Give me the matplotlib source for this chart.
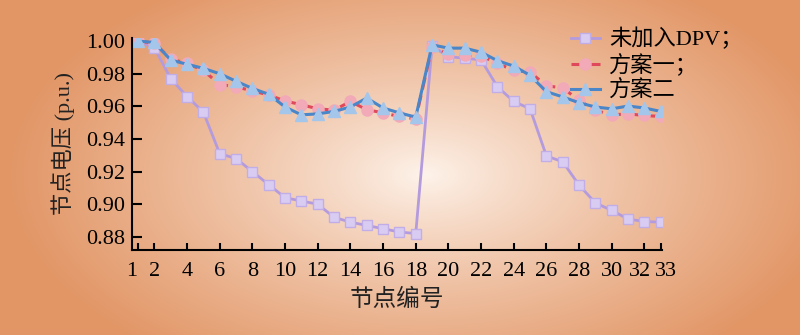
import numpy as np
import matplotlib
matplotlib.use('Agg')
import matplotlib.pyplot as plt
import matplotlib.transforms as mtransforms

plt.rcParams['font.family'] = ['Liberation Serif', 'Noto Sans CJK SC']

nodes = list(range(1, 34))
xtick_pos = [1, 2, 4, 6, 8, 10, 12, 14, 16, 18, 20, 22, 24, 26, 28, 30, 32, 33]

# 未加入DPV
no_dpv = [1.000, 0.996, 0.977, 0.966, 0.9565, 0.931, 0.928, 0.920, 0.912, 0.904,
          0.902, 0.900, 0.892, 0.889, 0.887, 0.885, 0.883, 0.882, 0.997, 0.9905,
          0.9895, 0.9885, 0.972, 0.963, 0.9585, 0.9296, 0.926, 0.9117, 0.9008, 0.8962,
          0.8909, 0.8894, 0.889]
# 方案一
plan1 = [1.000, 0.9988, 0.989, 0.9864, 0.982, 0.9734, 0.972, 0.9695, 0.967, 0.9633,
         0.961, 0.9585, 0.9577, 0.963, 0.958, 0.956, 0.9538, 0.9523, 0.9967, 0.992,
         0.9915, 0.991, 0.9864, 0.982, 0.981, 0.9726, 0.9713, 0.9637, 0.9575, 0.9548,
         0.9554, 0.9544, 0.9538]
# 方案二
plan2 = [1.000, 0.9992, 0.9884, 0.9858, 0.9833, 0.980, 0.9754, 0.971, 0.9674, 0.9596,
         0.9548, 0.9554, 0.9569, 0.9596, 0.9651, 0.959, 0.956, 0.9534, 0.9977, 0.9957,
         0.9957, 0.9932, 0.988, 0.9847, 0.979, 0.969, 0.9658, 0.9622, 0.9596, 0.9585,
         0.9602, 0.959, 0.9569]

fig = plt.figure(figsize=(8, 3.35), dpi=100)

# background radial gradient
bg = fig.add_axes([0, 0, 1, 1], zorder=-10)
gx, gy = np.meshgrid(np.linspace(0, 800, 400), np.linspace(0, 335, 170))
r = np.sqrt(((gx - 425) / 420) ** 2 + ((gy - 175) / 230) ** 2)
t = np.clip(r, 0, 1) ** 0.85
c0 = np.array([254, 244, 236]) / 255
c1 = np.array([226, 150, 102]) / 255
img = c0[None, None, :] * (1 - t[..., None]) + c1[None, None, :] * t[..., None]
bg.imshow(img, aspect='auto', extent=[0, 1, 0, 1], origin='upper')
bg.axis('off')

ax = fig.add_axes([0.165, 0.254, 0.663, 0.633])
ax.patch.set_alpha(0)

ax.plot(nodes, no_dpv, '-', color='#B49BDD', lw=2, marker='s', ms=7,
        mfc='#D9CCF2', mec='#C2AEE6', mew=1, label='未加入DPV；')
ax.plot(nodes, plan1, '--', color='#E0495C', lw=2.2, marker='o', ms=8,
        mfc='#F2A9B8', mec='#F2A9B8', dashes=(4, 2), label='方案一；')
ax.plot(nodes, plan2, '-', color='#4A86C8', lw=2.2, marker='^', ms=9,
        mfc='#A4C6EA', mec='#A4C6EA', label='方案二')

ax.set_xlim(0.63, 33.1)
ax.set_ylim(0.872, 1.002)
ax.set_xticks(xtick_pos)
ax.set_xticklabels([str(v) for v in xtick_pos])
ax.set_yticks([0.88, 0.90, 0.92, 0.94, 0.96, 0.98, 1.00])
ax.set_yticklabels(['0.88', '0.90', '0.92', '0.94', '0.96', '0.98', '1.00'])
ax.tick_params(axis='both', direction='in', labelsize=16, colors='black', width=1.5)
ax.tick_params(axis='y', length=7, pad=5)
ax.tick_params(axis='x', length=5, pad=9)
for s in ['top', 'right']:
    ax.spines[s].set_visible(False)
for s in ['left', 'bottom']:
    ax.spines[s].set_linewidth(1.5)

# nudge the crowded end labels like the original
shifts = {0: -6, 16: -4, 17: 5}
for i, lab in enumerate(ax.get_xticklabels()):
    if i in shifts:
        lab.set_transform(lab.get_transform() +
                          mtransforms.ScaledTranslation(shifts[i] / 100, 0, fig.dpi_scale_trans))

ax.set_xlabel('节点编号', fontsize=17, labelpad=5, color='#222222')
ax.set_ylabel('节点电压 (p.u.)', fontsize=16, labelpad=8, color='#222222')

leg = ax.legend(loc='upper left', bbox_to_anchor=(0.79, 1.14), frameon=False,
                fontsize=16, handlelength=1.3, labelspacing=0.15, handletextpad=0.4)

fig.savefig('out.png', dpi=100)
